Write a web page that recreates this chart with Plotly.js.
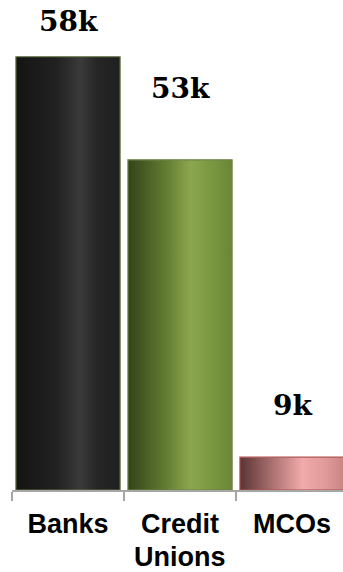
<!DOCTYPE html>
<html>
<head>
<meta charset="utf-8">
<script src="https://cdn.plot.ly/plotly-3.0.1.min.js"></script>
<style>html,body{margin:0;padding:0;background:#fff;}#chart{width:343px;height:572px;}</style>
</head>
<body>
<div id="chart"></div>
<script>
// Categories and values
const categories = ["Banks", "Credit Unions", "MCOs"];
const tickLine1 = ["Banks", "Credit", "MCOs"];
const tickLine2 = ["", "Unions", ""];
const valueLabels = ["58k", "53k", "9k"];
// drawn bar heights (relative units, Banks = 58)
const barHeights = [58, 44.2, 4.4];
// label vertical positions (same units)
const labelPositions = [60.3, 51.3, 8.8];

const fills = ["#262626", "#6f8a3c", "#d99a9a"];
const borders = ["#5f7340", "#6f8448", "#b05050"];

const trace = {
  type: "bar",
  x: categories,
  y: barHeights,
  marker: { color: fills, line: { color: borders, width: 1.2 } },
  hoverinfo: "none"
};

const annotations = categories.map((c, i) => ({
  x: c, y: labelPositions[i], xref: "x", yref: "y",
  text: "<b>" + valueLabels[i] + "</b>", showarrow: false,
  yanchor: "bottom", xanchor: "center",
  font: { family: "DejaVu Serif", size: 28, color: "#000" }
}));
categories.forEach((c, i) => {
  if (!tickLine2[i]) return;
  annotations.push({
    x: c, y: 0, xref: "x", yref: "paper", yshift: -50,
    text: "<b>" + tickLine2[i] + "</b>", showarrow: false,
    yanchor: "top", xanchor: "center",
    font: { family: "Liberation Sans", size: 27, color: "#000" }
  });
});

const layout = {
  width: 343, height: 572,
  margin: { l: 12, r: 0, t: 0, b: 82 },
  paper_bgcolor: "#fff", plot_bgcolor: "#fff",
  showlegend: false,
  bargap: 0.07,
  xaxis: {
    range: [-0.5, 2.455],
    tickmode: "array", tickvals: categories, ticktext: tickLine1,
    showgrid: false, zeroline: false,
    showline: true, linecolor: "#a6a6a6", linewidth: 2,
    ticks: "outside", tickson: "boundaries", ticklen: 9, tickcolor: "#a6a6a6", tickwidth: 2,
    ticklabelstandoff: 9,
    tickfont: { family: "Liberation Sans", size: 27, color: "#000", weight: "bold" },
    fixedrange: true
  },
  yaxis: {
    range: [0, 65.6], visible: false, showgrid: false, zeroline: false, fixedrange: true
  },
  annotations: annotations
};

const grads = [
  [["0%", "#141414"], ["40%", "#222"], ["62%", "#3a3a3a"], ["78%", "#262626"], ["100%", "#1f1f1f"]],
  [["0%", "#34441a"], ["35%", "#5f7a30"], ["60%", "#8ca64e"], ["80%", "#7a9840"], ["100%", "#6a8636"]],
  [["0%", "#5a3434"], ["30%", "#a86e6e"], ["60%", "#f2aaaa"], ["82%", "#e09a9a"], ["100%", "#c98484"]]
];

Plotly.newPlot("chart", [trace], layout, { displayModeBar: false, staticPlot: true }).then(gd => {
  const svg = gd.querySelector(".main-svg");
  let defs = svg.querySelector("defs");
  const ns = "http://www.w3.org/2000/svg";
  grads.forEach((stops, i) => {
    const lg = document.createElementNS(ns, "linearGradient");
    lg.setAttribute("id", "bargrad" + i);
    lg.setAttribute("x1", "0"); lg.setAttribute("y1", "0");
    lg.setAttribute("x2", "1"); lg.setAttribute("y2", "0");
    stops.forEach(s => {
      const st = document.createElementNS(ns, "stop");
      st.setAttribute("offset", s[0]);
      st.setAttribute("stop-color", s[1]);
      lg.appendChild(st);
    });
    defs.appendChild(lg);
  });
  gd.querySelectorAll(".bars .point path").forEach((p, i) => {
    p.style.fill = "url(#bargrad" + i + ")";
  });
});
</script>
</body>
</html>
